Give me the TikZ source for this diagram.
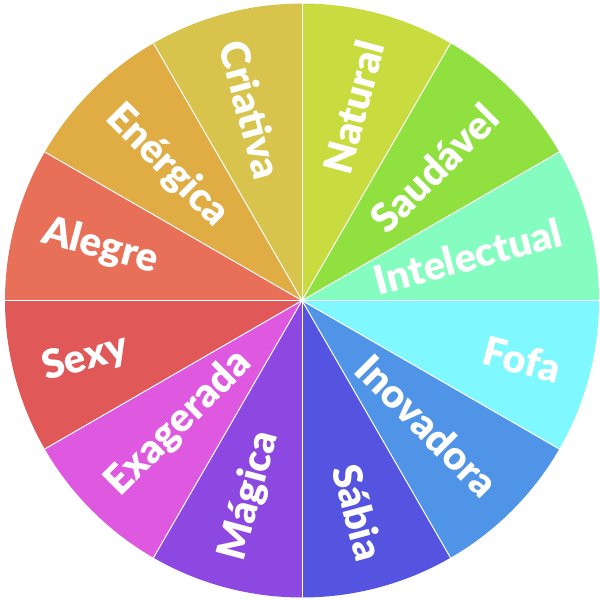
\documentclass[tikz,border=0pt]{standalone}
\usepackage{fontspec}
\setmainfont{Lato}
\newfontfamily\wheelfont{Lato Black}
\usetikzlibrary{calc}
\definecolor{cIntelectual}{HTML}{86FDC0}
\definecolor{cSaudavel}{HTML}{90E040}
\definecolor{cNatural}{HTML}{C8DC40}
\definecolor{cCriativa}{HTML}{D8C44C}
\definecolor{cEnergica}{HTML}{E0AC44}
\definecolor{cAlegre}{HTML}{E87058}
\definecolor{cSexy}{HTML}{E05858}
\definecolor{cExagerada}{HTML}{DE58E0}
\definecolor{cMagica}{HTML}{8E48E2}
\definecolor{cSabia}{HTML}{5454E0}
\definecolor{cInovadora}{HTML}{5094E8}
\definecolor{cFofa}{HTML}{80F8FF}
\tikzset{
  wheellabel/.style={text=white, font=\wheelfont\fontsize{40}{42}\selectfont, inner sep=0pt},
  separator/.style={draw=white, line width=1pt}
}
\begin{document}
\begin{tikzpicture}[x=1pt,y=1pt]
\useasboundingbox (0,0) rectangle (600,600);
\coordinate (c) at (302,299.5);
\def\R{297}
\foreach \a/\col [count=\i] in {
  15/cIntelectual, 45/cSaudavel, 75/cNatural, 105/cCriativa,
  135/cEnergica, 165/cAlegre, 195/cSexy, 225/cExagerada,
  255/cMagica, 285/cSabia, 315/cInovadora, 345/cFofa}{
  \fill[\col] (c) -- ++(\a-15:\R) arc[start angle=\a-15, end angle=\a+15, radius=\R] -- cycle;
}
\foreach \a in {0,30,...,330}{
  \draw[separator] (c) -- ++(\a:\R);
}
\foreach \a/\txt/\rot/\anc [count=\i] in {
  15/Intelectual/15/east,
  45/Saudável/45/east,
  75/Natural/75/east,
  105/Criativa/-75/west,
  135/Enérgica/-45/west,
  165/Alegre/-15/west,
  195/Sexy/15/west,
  225/Exagerada/45/west,
  255/Mágica/75/west,
  285/Sábia/-75/east,
  315/Inovadora/-45/east,
  345/Fofa/-15/east}{
  \node[wheellabel, rotate=\rot, anchor=\anc] (lab\i) at ($(c)+(\a:268)$) {\txt};
}
\end{tikzpicture}
\end{document}
